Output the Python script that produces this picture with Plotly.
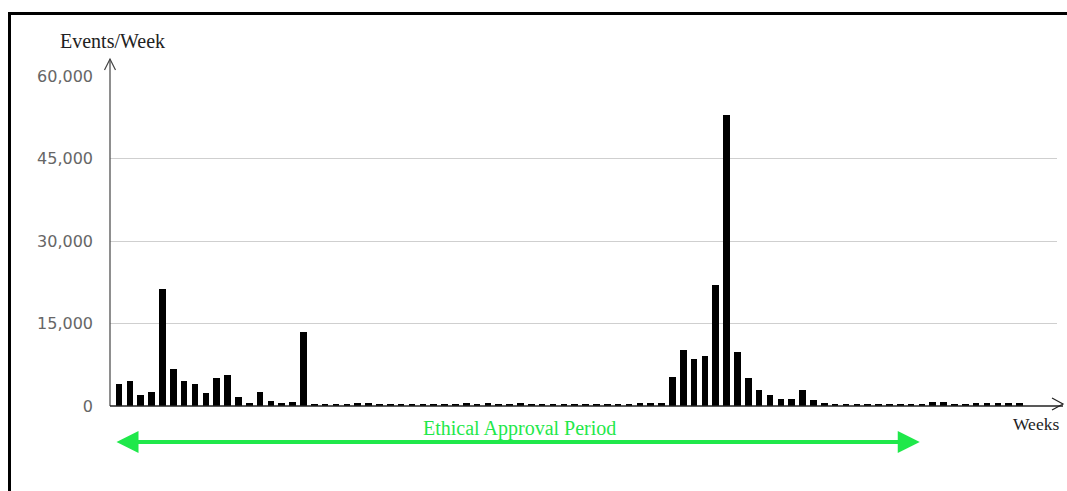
import plotly.graph_objects as go

# Events per week (weeks indexed 0..83)
weeks = list(range(84))
events = [
    3950, 4500, 2060, 2500, 21200, 6670, 4500, 3950, 2300, 5040,
    5700, 1580, 600, 2500, 850, 600, 650, 13450, 350, 350,
    350, 350, 500, 500, 350, 350, 350, 350, 350, 350,
    350, 350, 600, 350, 550, 450, 450, 600, 350, 350,
    350, 350, 350, 350, 350, 350, 350, 400, 600, 600,
    600, 5270, 10120, 8600, 9090, 21950, 52850, 9820, 5150, 2970,
    2000, 1270, 1270, 2970, 1030, 550, 350, 350, 350, 350,
    350, 450, 400, 350, 350, 750, 750, 350, 350, 500,
    500, 500, 500, 500,
]
y_ticks = [0, 15000, 30000, 45000, 60000]
approval_start, approval_end = -0.37, 73.8

GREEN = "#1fe84a"
W, H = 1067, 491
L, R, T, B = 110, 10, 76, 85
PW, PH = W - L - R, H - T - B


def px(x):
    return (x - L) / PW


def py(y):
    return (H - B - y) / PH


fig = go.Figure()
fig.add_trace(go.Bar(x=weeks, y=events, marker=dict(color="black", line=dict(width=0)),
                     width=0.61, hoverinfo="skip"))

shapes = [
    # outer frame (left/top visible)
    dict(type="rect", xref="paper", yref="paper", x0=px(9.5), x1=px(1100), y0=py(520), y1=py(13.5),
         line=dict(color="black", width=3), layer="above"),
    # y axis line + chevron
    dict(type="line", xref="paper", yref="paper", x0=0, x1=0, y0=0, y1=py(59),
         line=dict(color="#444", width=1.2)),
    dict(type="path", xref="paper", yref="paper",
         path=f"M {px(104.5)} {py(70)} L {px(110)} {py(59)} L {px(115.5)} {py(70)}",
         line=dict(color="#444", width=1.2)),
    # x axis line + chevron
    dict(type="line", xref="paper", yref="paper", x0=0, x1=px(1063), y0=0, y1=0,
         line=dict(color="#222", width=1.5)),
    dict(type="path", xref="paper", yref="paper",
         path=f"M {px(1052)} {py(398)} L {px(1063)} {py(404)} L {px(1052)} {py(410)}",
         line=dict(color="#222", width=1.2)),
]

annotations = [
    dict(text="Events/Week", xref="paper", yref="paper", x=px(112), y=py(41), showarrow=False,
         font=dict(family="Liberation Serif", size=20, color="#222"), xanchor="center", yanchor="middle"),
    dict(text="Weeks", xref="paper", yref="paper", x=px(1036), y=py(424), showarrow=False,
         font=dict(family="Liberation Serif", size=17.5, color="#222"), xanchor="center", yanchor="middle"),
    dict(text="Ethical Approval Period", xref="paper", yref="paper", x=px(519), y=py(428), showarrow=False,
         font=dict(family="Liberation Serif", size=20, color=GREEN), xanchor="center", yanchor="middle"),
    dict(x=approval_end, y=py(442), xref="x", yref="paper", ax=approval_start, ay=0, axref="x", ayref="pixel",
         showarrow=True, arrowhead=2, startarrowhead=2, arrowside="end+start", arrowsize=1.1,
         startarrowsize=1.1, arrowwidth=4, arrowcolor=GREEN, text=""),
]

fig.update_layout(
    width=W, height=H,
    margin=dict(l=L, r=R, t=T, b=B),
    paper_bgcolor="white", plot_bgcolor="white",
    showlegend=False,
    bargap=0,
    shapes=shapes,
    annotations=annotations,
    xaxis=dict(range=[-0.83, 86.45], showgrid=False, zeroline=False, showticklabels=False,
               showline=False, ticks=""),
    yaxis=dict(range=[0, 60000], tickvals=y_ticks, tickformat=",", showgrid=True,
               gridcolor="#cfcfcf", gridwidth=1, zeroline=False, showline=False,
               ticks="", ticklabelstandoff=16,
               tickfont=dict(family="DejaVu Sans", size=16, color="#666")),
)

fig.write_html("out.html", config={"displayModeBar": False},
               post_script="document.body.style.margin='0';document.body.style.overflow='hidden';")
